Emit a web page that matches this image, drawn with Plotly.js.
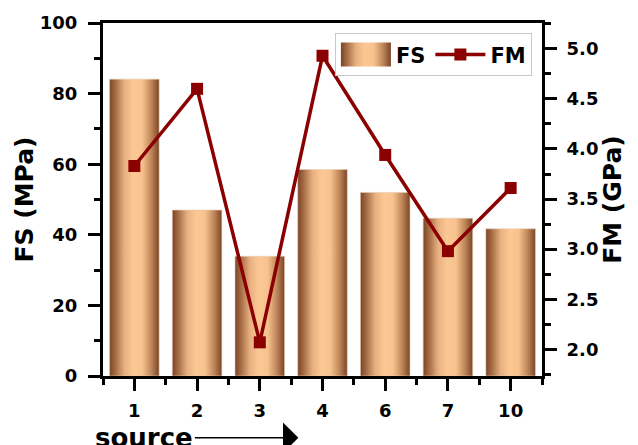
<!DOCTYPE html>
<html>
<head>
<meta charset="utf-8">
<script src="https://cdn.plot.ly/plotly-3.0.1.min.js"></script>
<style>html,body{margin:0;padding:0;background:#fff;}#chart{width:638px;height:445px;}</style>
</head>
<body>
<div id="chart"></div>
<script>
const categories = ["1", "2", "3", "4", "6", "7", "10"];
const fsValues = [84.1, 47.0, 33.9, 58.5, 52.0, 44.7, 41.7];
const fmValues = [3.83, 4.60, 2.07, 4.93, 3.94, 2.98, 3.61];
const fsTicks = [0, 20, 40, 60, 80, 100];
const fmTicks = [2.0, 2.5, 3.0, 3.5, 4.0, 4.5, 5.0];

const positions = categories.map((c, i) => i);
const FONT = "DejaVu Sans, Liberation Sans, Arial, sans-serif";

const traces = [
  {
    type: "bar",
    name: "FS",
    x: positions,
    y: fsValues,
    width: 0.79,
    marker: { color: "#e0a878", line: { width: 0.6, color: "#e8cdb4" } },
    yaxis: "y"
  },
  {
    type: "scatter",
    mode: "lines+markers",
    name: "FM",
    x: positions,
    y: fmValues,
    yaxis: "y2",
    line: { color: "#8b0000", width: 3.5 },
    marker: { symbol: "square", size: 12, color: "#8b0000" }
  }
];

const tickFont = { family: FONT, size: 18, color: "#000", weight: 700 };
const titleFont = { family: FONT, size: 25, color: "#000", weight: 700 };

const layout = {
  width: 638,
  height: 445,
  margin: { l: 103, r: 96, t: 23, b: 69 },
  paper_bgcolor: "#fff",
  plot_bgcolor: "#fff",
  showlegend: true,
  legend: {
    orientation: "h",
    x: 0.977, xanchor: "right",
    y: 0.971, yanchor: "top",
    bordercolor: "#c8c8c8", borderwidth: 1,
    bgcolor: "#fff",
    font: { family: FONT, size: 21, color: "#000", weight: 700 },
    itemwidth: 50,
    traceorder: "normal"
  },
  xaxis: {
    range: [-0.5, 6.5],
    tickvals: positions,
    ticktext: categories,
    ticks: "outside", ticklen: 12, tickwidth: 3, tickcolor: "#000",
    showline: true, linewidth: 3, linecolor: "#000",
    mirror: true,
    showgrid: false, zeroline: false,
    tickfont: tickFont,
    ticklabelstandoff: 4,
    minor: { tick0: 0.5, dtick: 1, ticks: "outside", ticklen: 6, tickwidth: 3, tickcolor: "#000", showgrid: false }
  },
  yaxis: {
    range: [0, 100],
    tickvals: fsTicks,
    ticks: "outside", ticklen: 12, tickwidth: 3, tickcolor: "#000",
    showline: true, linewidth: 3, linecolor: "#000",
    showgrid: false, zeroline: false,
    tickfont: tickFont,
    ticklabelstandoff: 7,
    title: { text: "FS (MPa)", font: titleFont, standoff: 0 },
    minor: { dtick: 10, ticks: "outside", ticklen: 6, tickwidth: 3, tickcolor: "#000", showgrid: false }
  },
  yaxis2: {
    overlaying: "y",
    side: "right",
    range: [1.734, 5.257],
    tickvals: fmTicks,
    tickformat: ".1f",
    ticks: "outside", ticklen: 12, tickwidth: 3, tickcolor: "#000",
    showline: true, linewidth: 3, linecolor: "#000",
    showgrid: false, zeroline: false,
    tickfont: tickFont,
    ticklabelstandoff: 6,
    title: { text: "FM (GPa)", font: titleFont, standoff: 2 },
    minor: { dtick: 0.25, ticks: "outside", ticklen: 6, tickwidth: 3, tickcolor: "#000", showgrid: false }
  },
  annotations: [
    {
      xref: "paper", yref: "paper",
      x: 0.445, y: -0.175,
      ax: -154, ay: 0,
      text: "source",
      showarrow: true,
      arrowhead: 1, arrowsize: 3.2, arrowwidth: 1.6, arrowcolor: "#000",
      font: { family: FONT, size: 26, color: "#000", weight: 700 }
    }
  ]
};

Plotly.newPlot("chart", traces, layout, { staticPlot: true, displayModeBar: false }).then(function (gd) {
  const svg = gd.querySelector("svg.main-svg");
  let defs = svg.querySelector("defs");
  if (!defs) { defs = document.createElementNS("http://www.w3.org/2000/svg", "defs"); svg.insertBefore(defs, svg.firstChild); }
  const ns = "http://www.w3.org/2000/svg";
  const grad = document.createElementNS(ns, "linearGradient");
  grad.setAttribute("id", "fsGrad");
  grad.setAttribute("x1", "0"); grad.setAttribute("y1", "0");
  grad.setAttribute("x2", "1"); grad.setAttribute("y2", "0");
  const stops = [
    [0, "#7a4426"], [0.12, "#a56c45"], [0.3, "#e8b080"], [0.48, "#fbc893"],
    [0.66, "#f7c28e"], [0.84, "#c0875a"], [1, "#7a4426"]
  ];
  stops.forEach(function (s) {
    const st = document.createElementNS(ns, "stop");
    st.setAttribute("offset", s[0]);
    st.setAttribute("stop-color", s[1]);
    grad.appendChild(st);
  });
  defs.appendChild(grad);
  gd.querySelectorAll(".barlayer .point path").forEach(function (p) {
    p.style.fill = "url(#fsGrad)";
  });
  gd.querySelectorAll(".legend .traces").forEach(function (t, i) {
    const p = t.querySelector(".legendpoints path");
    if (i === 0 && p) {
      p.setAttribute("d", "M25,12H-25V-12H25Z");
      p.style.fill = "url(#fsGrad)";
      p.style.stroke = "none";
    }
  });
});
</script>
</body>
</html>
